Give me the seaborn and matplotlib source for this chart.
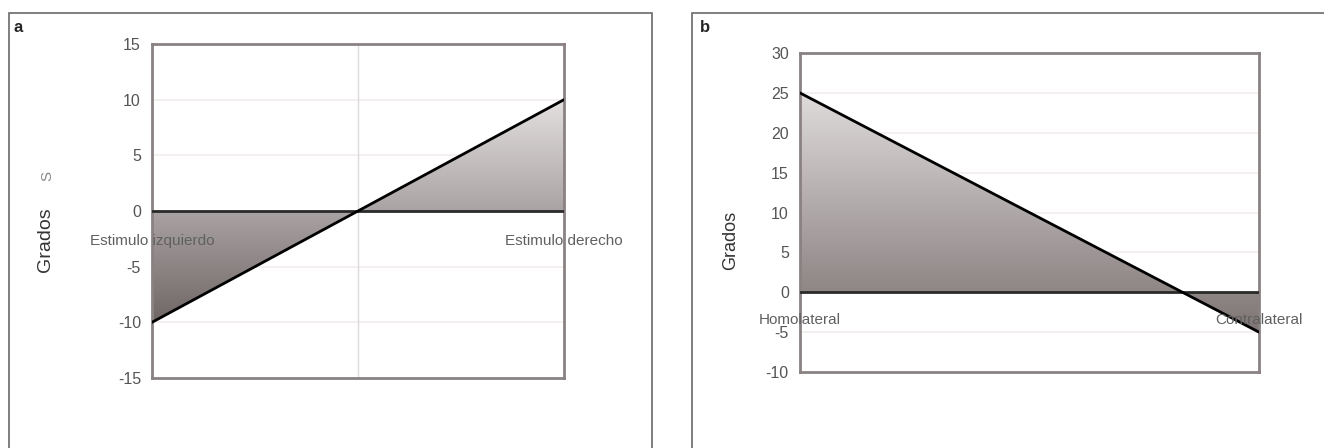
import numpy as np
import matplotlib.pyplot as plt
import matplotlib.transforms as mtrans
from matplotlib.patches import Rectangle
from matplotlib.colors import LinearSegmentedColormap
import seaborn as sns

# Panel a: deviation for left / right stimulus
cats_a = ["Estimulo izquierdo", "", "Estimulo derecho"]
vals_a = [-10, 0, 10]
ticks_a = [-15, -10, -5, 0, 5, 10, 15]

# Panel b: homolateral vs contralateral
cats_b = ["Homolateral", "Contralateral"]
vals_b = [25, -5]
ticks_b = [-10, -5, 0, 5, 10, 15, 20, 25, 30]

sns.set_style("white")
plt.rcParams['font.family'] = ['Liberation Sans', 'DejaVu Sans']
plt.rcParams['axes.unicode_minus'] = False

fig = plt.figure(figsize=(13.24, 4.48), dpi=100)

# outer frames of each panel
fig.patches.append(Rectangle((0.0068, -0.05), 0.4857, 1.021, transform=fig.transFigure,
                             fill=False, edgecolor='#6a6a6a', lw=1.2))
fig.patches.append(Rectangle((0.5227, -0.05), 0.5, 1.021, transform=fig.transFigure,
                             fill=False, edgecolor='#6a6a6a', lw=1.2))


def draw_panel(ax, cats, vals, ticks, top_col, bot_col, xgrid, lab_off):
    pos = np.arange(len(cats))
    for t in ticks[1:-1]:
        if t != 0:
            ax.axhline(t, color='#f2eded', lw=1.2, zorder=0)
    if xgrid:
        for p in pos[1:-1]:
            ax.axvline(p, color='#dedada', lw=1, zorder=0)

    # gradient shaded area between the line and zero
    poly = ax.fill_between(pos, vals, 0, facecolor='none', edgecolor='none')
    cmap = LinearSegmentedColormap.from_list('g', [top_col, bot_col])
    grad = np.linspace(0, 1, 256).reshape(-1, 1)
    img = ax.imshow(grad, cmap=cmap, aspect='auto', origin='upper',
                    extent=[pos[0], pos[-1], min(vals), max(vals)], zorder=1)
    img.set_clip_path(poly.get_paths()[0], ax.transData)

    ax.axhline(0, color='#2a2a2a', lw=2, zorder=3)
    sns.lineplot(x=pos, y=vals, color='black', lw=2, ax=ax, zorder=4)

    ax.set_xlim(pos[0], pos[-1])
    ax.set_ylim(ticks[0], ticks[-1])
    ax.set_yticks(ticks)
    ax.set_xticks(pos)
    ax.set_xticklabels([])

    for s in ax.spines.values():
        s.set_color('#8a8282')
        s.set_linewidth(2)
    ax.tick_params(axis='y', length=0, pad=8, labelsize=11.5, labelcolor='#555555')
    ax.tick_params(axis='x', length=0)

    off = mtrans.offset_copy(ax.transData, fig=fig, y=lab_off, units='dots')
    for p, c in zip(pos, cats):
        if c:
            ax.text(p, 0, c, ha='center', va='center', fontsize=11,
                    color='#606060', transform=off, zorder=5, clip_on=False)


ax_a = fig.add_axes([0.1148, 0.1563, 0.3112, 0.7455])
draw_panel(ax_a, cats_a, vals_a, ticks_a, '#e4e0e0', '#706666', True, -30)

ax_b = fig.add_axes([0.6042, 0.1696, 0.3467, 0.712])
draw_panel(ax_b, cats_b, vals_b, ticks_b, '#e0dcdc', '#7e7474', False, -28)

fig.text(0.034, 1 - 240 / 448, 'Grados', rotation=90, ha='center', va='center',
         fontsize=14, color='#333333')
fig.text(0.036, 1 - 176 / 448, 'S', rotation=90, ha='center', va='center',
         fontsize=11, color='#8a8a8a')
fig.text(0.5515, 1 - 240 / 448, 'Grados', rotation=90, ha='center', va='center',
         fontsize=13, color='#333333')

fig.text(13 / 1324, 1 - 27 / 448, 'a', fontsize=12, fontweight='bold', va='center')
fig.text(700 / 1324, 1 - 27 / 448, 'b', fontsize=12, fontweight='bold', va='center')

fig.savefig('out.png', dpi=100)
